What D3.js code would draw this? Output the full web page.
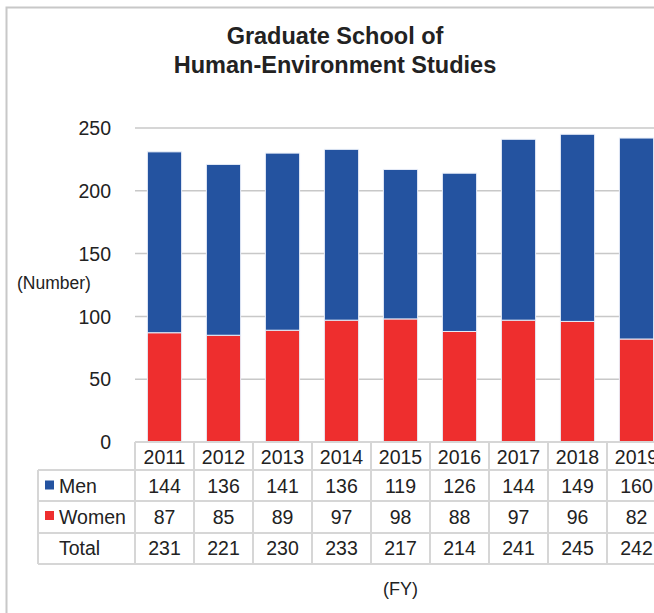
<!DOCTYPE html>
<html>
<head>
<meta charset="utf-8">
<script src="https://cdn.jsdelivr.net/npm/d3@7/dist/d3.min.js"></script>
<style>
  html, body { margin: 0; padding: 0; background: #fff; overflow: hidden; }
  svg { display: block; font-family: "Liberation Sans", Arial, sans-serif; }
</style>
</head>
<body>
<svg id="chart" width="654" height="613"></svg>
<script>
const years = ["2011","2012","2013","2014","2015","2016","2017","2018","2019"];
const men   = [144, 136, 141, 136, 119, 126, 144, 149, 160];
const women = [ 87,  85,  89,  97,  98,  88,  97,  96,  82];
const total = [231, 221, 230, 233, 217, 214, 241, 245, 242];
const yTicks = [0, 50, 100, 150, 200, 250];
const titleLines = ["Graduate School of", "Human-Environment Studies"];

const svg = d3.select("#chart");
const W = 654, H = 613;
const textColor = "#222";
const gridColor = "#c8c8c8";
const tableLine = "#d6d6d6";
const blue = "#2453a0", red = "#ee2e2e";

// frame
svg.append("rect").attr("x", 6.5).attr("y", 7.5).attr("width", 700).attr("height", 700)
  .attr("fill", "none").attr("stroke", "#c8c8c8").attr("stroke-width", 2);

// title
svg.append("g").selectAll("text").data(titleLines).join("text")
  .attr("x", 335).attr("y", (d, i) => 43.5 + i * 29)
  .attr("text-anchor", "middle").attr("font-weight", "bold")
  .attr("font-size", 23.5).attr("fill", textColor).text(d => d);

const x = d3.scaleBand().domain(years).range([135, 135 + 59 * years.length])
  .paddingInner(0.42).paddingOuter(0.21);
const y = d3.scaleLinear().domain([0, 250]).range([442, 128]);
const step = x.step();
const colLeft = d => x(d) - (step - x.bandwidth()) / 2;

// gridlines
svg.append("g").selectAll("line").data(yTicks.filter(t => t > 0)).join("line")
  .attr("x1", 135).attr("x2", W + 20)
  .attr("y1", d => y(d)).attr("y2", d => y(d))
  .attr("stroke", gridColor).attr("stroke-width", 1.5);

// y axis labels
const yAxis = d3.axisLeft(y).tickValues(yTicks).tickSize(0).tickPadding(0);
const ya = svg.append("g").attr("transform", "translate(111,0)").call(yAxis);
ya.select(".domain").remove();
ya.selectAll("text").attr("font-size", 19.5).attr("fill", textColor)
  .attr("font-family", "'Liberation Sans', Arial, sans-serif").attr("dy", "0.34em");

svg.append("text").attr("x", 17).attr("y", 288.5).attr("font-size", 17.5)
  .attr("fill", textColor).text("(Number)");

// bars
const rows = years.map((yr, i) => ({ yr, men: men[i], women: women[i] }));
const stack = d3.stack().keys(["women", "men"])(rows);
const colors = { women: red, men: blue };
svg.append("g").selectAll("g").data(stack).join("g")
  .attr("fill", d => colors[d.key])
  .selectAll("rect").data(d => d).join("rect")
  .attr("x", d => x(d.data.yr)).attr("width", x.bandwidth())
  .attr("y", d => y(d[1])).attr("height", d => y(d[0]) - y(d[1]))
  .attr("stroke", "#e8eef8").attr("stroke-width", 1);

// table
const rowTops = [442, 470, 501, 533, 564];
const t = svg.append("g");
t.append("rect").attr("x", 135).attr("y", 442).attr("width", 800).attr("height", 28).attr("fill", "#fff");
const lineAttrs = sel => sel.attr("stroke", tableLine).attr("stroke-width", 2);
// horizontal lines
t.append("line").attr("x1", 135).attr("x2", W + 20).attr("y1", 442).attr("y2", 442).call(lineAttrs);
rowTops.slice(1).forEach(yy => {
  t.append("line").attr("x1", 38).attr("x2", W + 20).attr("y1", yy).attr("y2", yy).call(lineAttrs);
});
// vertical lines
t.append("line").attr("x1", 38).attr("x2", 38).attr("y1", 470).attr("y2", 564).call(lineAttrs);
t.selectAll("line.v").data(years).join("line").attr("class", "v")
  .attr("x1", d => colLeft(d)).attr("x2", d => colLeft(d))
  .attr("y1", 442).attr("y2", 564).call(lineAttrs);
t.append("line").attr("x1", colLeft(years[years.length - 1]) + step)
  .attr("x2", colLeft(years[years.length - 1]) + step)
  .attr("y1", 442).attr("y2", 564).call(lineAttrs);

const fs = 19.5;
// year header
t.selectAll("text.yr").data(years).join("text").attr("class", "yr")
  .attr("x", d => x(d) + x.bandwidth() / 2).attr("y", 463.5)
  .attr("text-anchor", "middle").attr("font-size", fs).attr("fill", textColor).text(d => d);

const tableRows = [
  { label: "Men", vals: men, color: blue, base: 493 },
  { label: "Women", vals: women, color: red, base: 523.5 },
  { label: "Total", vals: total, color: null, base: 554.5 }
];
tableRows.forEach(r => {
  if (r.color) {
    t.append("rect").attr("x", 45).attr("y", r.base - 12.5).attr("width", 9).attr("height", 9).attr("fill", r.color);
  }
  t.append("text").attr("x", 59).attr("y", r.base).attr("font-size", fs).attr("fill", textColor).text(r.label);
  t.selectAll(null).data(r.vals).join("text")
    .attr("x", (d, i) => x(years[i]) + x.bandwidth() / 2).attr("y", r.base)
    .attr("text-anchor", "middle").attr("font-size", fs).attr("fill", textColor).text(d => d);
});

svg.append("text").attr("x", 400.5).attr("y", 595).attr("text-anchor", "middle")
  .attr("font-size", 18).attr("fill", textColor).text("(FY)");
</script>
</body>
</html>
